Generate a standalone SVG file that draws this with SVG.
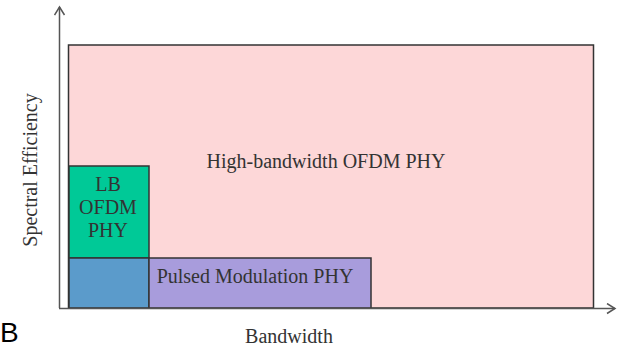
<svg xmlns="http://www.w3.org/2000/svg" width="619" height="349" viewBox="0 0 619 349">
<style>
.box{stroke:#333;stroke-width:1.5}
.lbl{font-family:"Liberation Serif","Times New Roman",serif;font-size:20px;fill:#333}
.axis{stroke:#555;stroke-width:1.5;fill:none}
</style>
<defs>
<marker id="arr" markerWidth="12" markerHeight="12" refX="10" refY="6" orient="auto" markerUnits="userSpaceOnUse">
<path d="M2,1 L10,6 L2,11" fill="none" stroke="#555" stroke-width="1.5"/>
</marker>
</defs>
<rect width="619" height="349" fill="#fff"/>
<g id="hb-ofdm">
<rect class="box" x="68.5" y="45" width="525" height="263" fill="#FDD7D8"/>
<text class="lbl" x="326" y="168" text-anchor="middle">High-bandwidth OFDM PHY</text>
</g>
<g id="lb-ofdm">
<rect class="box" x="69" y="166" width="80" height="92" fill="#00C997"/>
<text class="lbl" x="108" y="191" text-anchor="middle">LB</text>
<text class="lbl" x="108" y="214" text-anchor="middle">OFDM</text>
<text class="lbl" x="108" y="237" text-anchor="middle">PHY</text>
</g>
<g id="overlap">
<rect class="box" x="69" y="258" width="80" height="50" fill="#5B9BCB"/>
</g>
<g id="pulsed">
<rect class="box" x="149" y="258" width="222" height="50" fill="#A89CDC"/>
<text class="lbl" x="255" y="283" text-anchor="middle">Pulsed Modulation PHY</text>
</g>
<g id="connectors">
<line class="axis" x1="59.5" y1="308" x2="59.5" y2="7" marker-end="url(#arr)"/>
<line class="axis" x1="59" y1="308.5" x2="615" y2="308.5" marker-end="url(#arr)"/>
</g>
<text class="lbl" x="289" y="343" text-anchor="middle">Bandwidth</text>
<text class="lbl" transform="translate(37,170) rotate(-90)" text-anchor="middle">Spectral Efficiency</text>
<text x="0" y="342" font-family="Liberation Sans, Arial, sans-serif" font-size="28" fill="#000">B</text>
</svg>
